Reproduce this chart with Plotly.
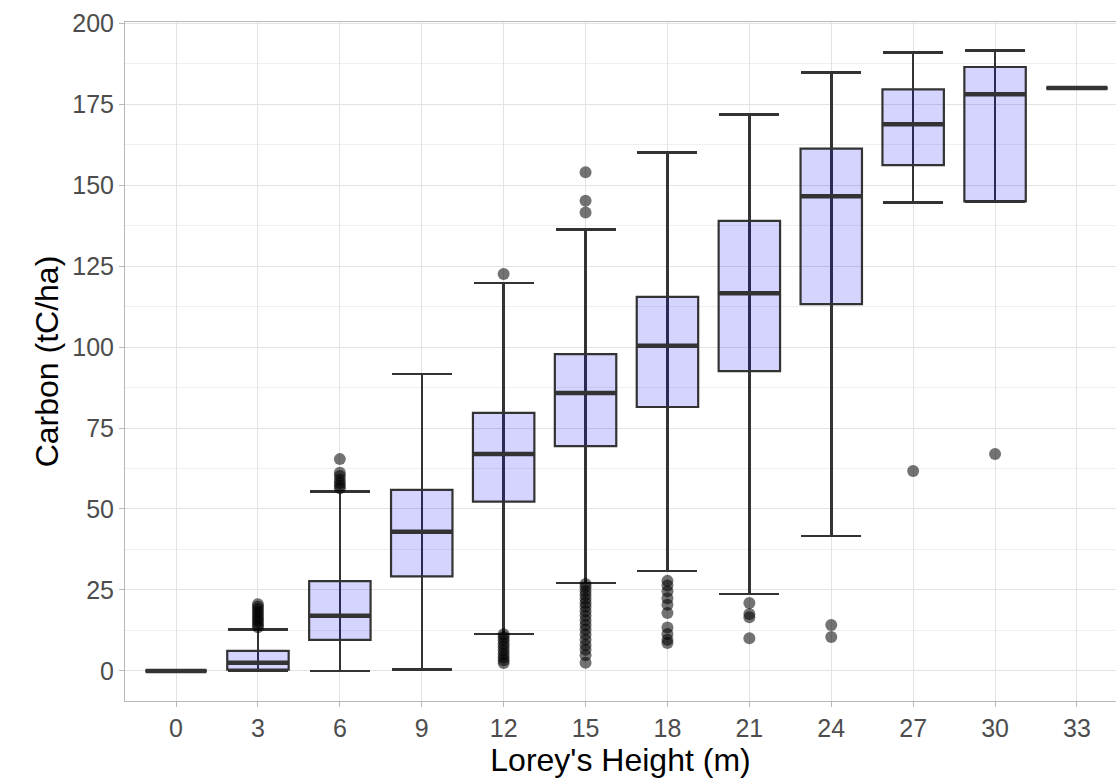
import plotly.graph_objects as go

# ---- data ----
heights = [0, 3, 6, 9, 12, 15, 18, 21, 24, 27, 30, 33]
q1 = [0, 0.4, 9.6, 29.2, 52.3, 69.4, 81.5, 92.6, 113.3, 156.2, 145.0, 180.0]
median = [0, 2.5, 17.0, 43.0, 67.0, 85.8, 100.4, 116.6, 146.6, 168.8, 178.1, 180.0]
q3 = [0, 6.2, 27.7, 55.9, 79.7, 97.8, 115.5, 139.0, 161.3, 179.6, 186.5, 180.0]
lower = [0, 0, 0, 0.5, 11.4, 27.2, 30.8, 23.7, 41.7, 144.6, 145.0, 180.0]
upper = [0, 12.8, 55.4, 91.7, 119.8, 136.3, 160.1, 171.8, 184.8, 191.0, 191.6, 180.0]

out_3 = [13.5, 14.2, 15.0, 15.8, 16.6, 17.4, 18.2, 19.0, 19.8, 20.6]
out_6 = [56.4, 57.2, 58.0, 59.0, 60.2, 61.2, 65.4]
out_12 = [2.4, 3.3, 4.2, 5.2, 6.3, 7.4, 8.4, 9.5, 10.5, 11.3, 122.6]
out_15 = [2.5, 4.8, 6.5, 8.0, 9.6, 11.2, 12.8, 14.2, 15.6, 17.0, 18.4, 19.8,
          21.0, 22.2, 23.4, 24.6, 25.8, 26.8, 141.6, 145.2, 154.0]
out_18 = [8.6, 9.6, 11.4, 13.4, 17.9, 20.4, 22.4, 24.6, 26.4, 27.8]
out_21 = [10.1, 16.6, 17.6, 21.0]
out_24 = [10.5, 14.2]
out_27 = [61.7]
out_30 = [67.0]

outliers = {3: out_3, 6: out_6, 12: out_12, 15: out_15, 18: out_18,
            21: out_21, 24: out_24, 27: out_27, 30: out_30}

x_title = "Lorey's Height (m)"
y_title = "Carbon (tC/ha)"

# ---- styles ----
DARK = "#333333"
FILL = "rgba(0,0,255,0.17)"
FONT = "Liberation Sans, Arial, sans-serif"

fig = go.Figure()

# whiskers with caps (errorbar), drawn underneath the boxes
fig.add_trace(go.Bar(
    x=heights, y=median,
    marker=dict(color="rgba(0,0,0,0)", line=dict(width=0)),
    width=2.25,
    error_y=dict(type="data", symmetric=False,
                 array=[u - m for u, m in zip(upper, median)],
                 arrayminus=[m - l for m, l in zip(median, lower)],
                 color=DARK, thickness=2.5, width=30),
    hoverinfo="skip", showlegend=False,
))

# boxes
fig.add_trace(go.Box(
    x=heights, q1=q1, median=median, q3=q3,
    lowerfence=q1, upperfence=q3,
    boxpoints=False, width=2.25,
    fillcolor=FILL, line=dict(color=DARK, width=2.2),
    showlegend=False,
))

# thicker median lines
fig.add_trace(go.Scatter(
    x=heights, y=median, mode="markers",
    marker=dict(symbol="line-ew", size=43.5,
                line=dict(color=DARK, width=4.5)),
    hoverinfo="skip", showlegend=False,
))

# outliers
ox, oy = [], []
for h, vals in outliers.items():
    ox += [h] * len(vals)
    oy += vals
fig.add_trace(go.Scatter(
    x=ox, y=oy, mode="markers",
    marker=dict(color="rgba(0,0,0,0.55)", size=12, line=dict(width=0)),
    showlegend=False,
))

fig.update_layout(
    width=1116, height=783,
    margin=dict(l=125, r=0, t=22, b=82),
    plot_bgcolor="white", paper_bgcolor="white",
    font=dict(family=FONT, color="#4d4d4d"),
    bargap=0,
)
fig.update_xaxes(
    range=[-1.87, 34.43], tickmode="array", tickvals=heights,
    ticktext=[str(h) for h in heights],
    showgrid=True, gridcolor="#e3e3e3", gridwidth=1,
    showline=True, linecolor="#b8b8b8", linewidth=1, mirror=True,
    ticks="outside", ticklen=5, tickcolor="#b8b8b8",
    tickfont=dict(size=25, color="#4d4d4d"),
    title=dict(text=x_title, font=dict(size=32, color="black"), standoff=2),
    zeroline=False,
)
fig.update_yaxes(
    range=[-9.3, 200.4], tickmode="linear", tick0=0, dtick=25,
    showgrid=True, gridcolor="#e3e3e3", gridwidth=1,
    minor=dict(dtick=12.5, tick0=0, showgrid=True, gridcolor="#efefef", gridwidth=1),
    showline=True, linecolor="#b8b8b8", linewidth=1, mirror=True,
    ticks="outside", ticklen=5, tickcolor="#b8b8b8",
    tickfont=dict(size=25, color="#4d4d4d"),
    title=dict(text=y_title, font=dict(size=32, color="black"), standoff=4),
    zeroline=False,
)

fig.write_html("out.html")
